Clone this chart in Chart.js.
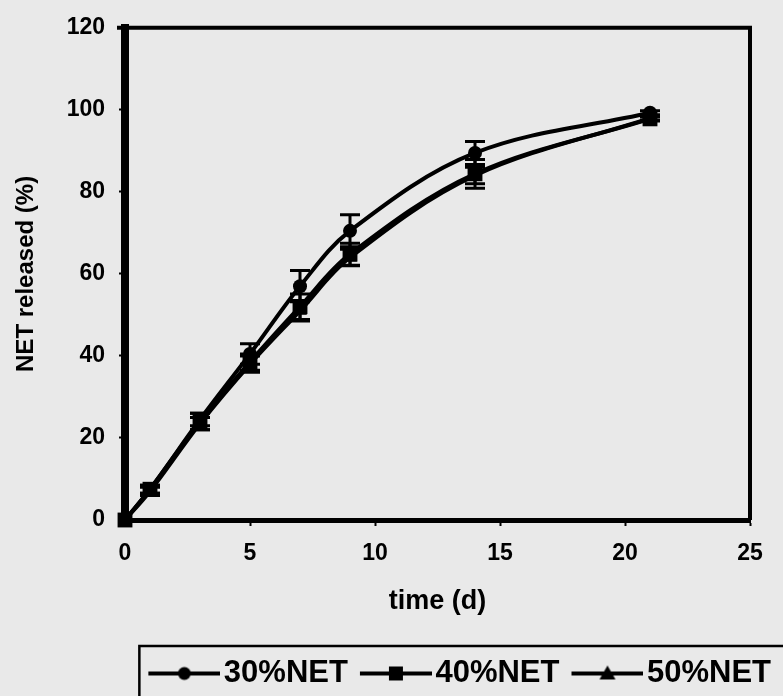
<!DOCTYPE html>
<html>
<head>
<meta charset="utf-8">
<script src="https://cdn.jsdelivr.net/npm/chart.js@4.4.0/dist/chart.umd.min.js"></script>
<style>
  html, body { margin: 0; padding: 0; background: #e9e9e9; }
  #wrap { width: 783px; height: 696px; }
</style>
</head>
<body>
<div id="wrap"><canvas id="releaseChart" width="783" height="696"></canvas></div>
<script>
// Дні відбору проб
const days = [0, 1, 3, 5, 7, 9, 14, 21];
// Вивільнення NET, %
const net30 = [0, 7.5, 24.5, 40.5, 57, 70.5, 89.5, 99.3];
const net40 = [0, 7.5, 24, 38.5, 52, 64.8, 84.4, 97.8];
const net50 = [0, 7, 23.5, 38, 51, 64, 84, 98];
// Похибки (SD)
const err30 = [0, 1, 1.5, 2.5, 3.8, 3.9, 2.8, 0.5];
const err40 = [0, 1, 2, 2, 3.1, 2.7, 3.5, 0.5];
const err50 = [0, 1, 1.5, 2, 2.5, 2, 2, 0.5];

const seriesNames = ['30%NET', '40%NET', '50%NET'];
const xTicks = [0, 5, 10, 15, 20, 25];
const yTicks = [0, 20, 40, 60, 80, 100, 120];

const FONT = '"Liberation Sans", Arial, sans-serif';

function toPoints(values) {
    return days.map((d, i) => ({ x: d, y: values[i] }));
}

// Іконки для легенди: лінія з маркером
function legendIcon(style) {
    const c = document.createElement('canvas');
    c.width = 84; c.height = 20;
    const g = c.getContext('2d');
    g.strokeStyle = '#000';
    g.fillStyle = '#000';
    g.lineWidth = 4;
    g.beginPath(); g.moveTo(12, 10); g.lineTo(84, 10); g.stroke();
    const cx = 48, cy = 10;
    g.beginPath();
    if (style === 'circle') {
        g.arc(cx, cy, 6.5, 0, Math.PI * 2);
    } else if (style === 'rect') {
        g.rect(cx - 7, cy - 7, 14, 14);
    } else {
        g.moveTo(cx, cy - 8); g.lineTo(cx + 8, cy + 6); g.lineTo(cx - 8, cy + 6); g.closePath();
    }
    g.fill();
    return c;
}
const icons = [legendIcon('circle'), legendIcon('rect'), legendIcon('triangle')];

const backgroundPlugin = {
    id: 'bg',
    beforeInit(chart) {
        // фіксована висота легенди
        const fit = chart.legend.fit;
        chart.legend.fit = function () {
            fit.call(this);
            this.height = 50;
        };
    },
    beforeDraw(chart) {
        const ctx = chart.ctx;
        ctx.save();
        ctx.fillStyle = '#e9e9e9';
        ctx.fillRect(0, 0, chart.width, chart.height);
        ctx.restore();
    }
};

const errorBarPlugin = {
    id: 'errorBars',
    afterDatasetsDraw(chart) {
        const ctx = chart.ctx;
        const xs = chart.scales.x, ys = chart.scales.y;
        ctx.save();
        ctx.strokeStyle = '#000';
        ctx.lineWidth = 3;
        chart.data.datasets.forEach((ds) => {
            ds.errors.forEach((e, j) => {
                if (!e) return;
                const x = xs.getPixelForValue(days[j]);
                const yt = ys.getPixelForValue(ds.data[j].y + e);
                const yb = ys.getPixelForValue(ds.data[j].y - e);
                ctx.beginPath();
                ctx.moveTo(x, yt); ctx.lineTo(x, yb);
                ctx.moveTo(x - 10, yt); ctx.lineTo(x + 10, yt);
                ctx.moveTo(x - 10, yb); ctx.lineTo(x + 10, yb);
                ctx.stroke();
            });
        });
        ctx.restore();
    }
};

const frameLegendPlugin = {
    id: 'frameLegend',
    afterDraw(chart) {
        const ctx = chart.ctx;
        const a = chart.chartArea;
        ctx.save();
        ctx.strokeStyle = '#000';
        ctx.lineWidth = 4;
        ctx.beginPath();
        ctx.moveTo(a.left - 8, a.top); ctx.lineTo(a.right, a.top); ctx.lineTo(a.right, a.bottom);
        ctx.stroke();
        // Рамка легенди
        const boxes = chart.legend.legendHitBoxes;
        if (boxes && boxes.length) {
            const l = boxes[0].left - 9;
            const t = chart.legend.top;
            ctx.lineWidth = 2.5;
            ctx.strokeRect(l, t, chart.width - l + 5, chart.height - t + 5);
        }
        ctx.restore();
    }
};

const datasets = [net30, net40, net50].map((vals, i) => ({
    label: seriesNames[i],
    data: toPoints(vals),
    errors: [err30, err40, err50][i],
    borderColor: '#000',
    backgroundColor: '#000',
    borderWidth: 4,
    pointStyle: ['circle', 'rect', 'triangle'][i],
    pointRadius: [7, 10.5, 8][i],
    pointBorderWidth: 0,
    tension: 0.35,
    clip: false
}));

new Chart(document.getElementById('releaseChart'), {
    type: 'line',
    data: { datasets: datasets },
    plugins: [backgroundPlugin, errorBarPlugin, frameLegendPlugin],
    options: {
        responsive: false,
        animation: false,
        layout: { padding: { top: 24, left: 0, right: 0, bottom: 0 } },
        plugins: {
            tooltip: { enabled: false },
            legend: {
                position: 'bottom',
                align: 'end',
                labels: {
                    usePointStyle: true,
                    pointStyleWidth: 60,
                    boxHeight: 20,
                    padding: 12,
                    color: '#000',
                    font: { family: FONT, size: 31, weight: 'bold' },
                    generateLabels: (chart) => chart.data.datasets.map((ds, i) => ({
                        text: ds.label,
                        pointStyle: icons[i],
                        fillStyle: '#000',
                        strokeStyle: '#000',
                        lineWidth: 0,
                        hidden: false,
                        datasetIndex: i
                    }))
                }
            }
        },
        scales: {
            x: {
                type: 'linear',
                min: 0, max: 25,
                afterBuildTicks: (s) => { s.ticks = xTicks.map(v => ({ value: v })); },
                afterFit: (s) => { s.height = 126; },
                grid: { drawOnChartArea: false, drawTicks: true, tickLength: 6, tickWidth: 2, color: '#000' },
                border: { display: true, width: 5, color: '#000' },
                ticks: { color: '#000', padding: 14, font: { family: FONT, size: 23, weight: 'bold' } },
                title: {
                    display: true, text: 'time (d)', color: '#000',
                    padding: { top: 0, bottom: 28 },
                    font: { family: FONT, size: 27, weight: 'bold' }
                }
            },
            y: {
                min: 0, max: 120,
                afterBuildTicks: (s) => { s.ticks = yTicks.map(v => ({ value: v })); },
                afterFit: (s) => { s.width = 125; },
                grid: { drawOnChartArea: false, drawTicks: true, tickLength: 6, tickWidth: 2, color: '#000' },
                border: { display: true, width: 8, color: '#000' },
                ticks: { color: '#000', padding: 14, font: { family: FONT, size: 23, weight: 'bold' } },
                title: {
                    display: true, text: 'NET released (%)', color: '#000',
                    padding: { top: 12, bottom: 0 },
                    font: { family: FONT, size: 24, weight: 'bold' }
                }
            },
            yRight: {
                position: 'right',
                display: true,
                afterFit: (s) => { s.width = 33; },
                grid: { display: false },
                border: { display: false },
                ticks: { display: false }
            }
        }
    }
});
</script>
</body>
</html>
